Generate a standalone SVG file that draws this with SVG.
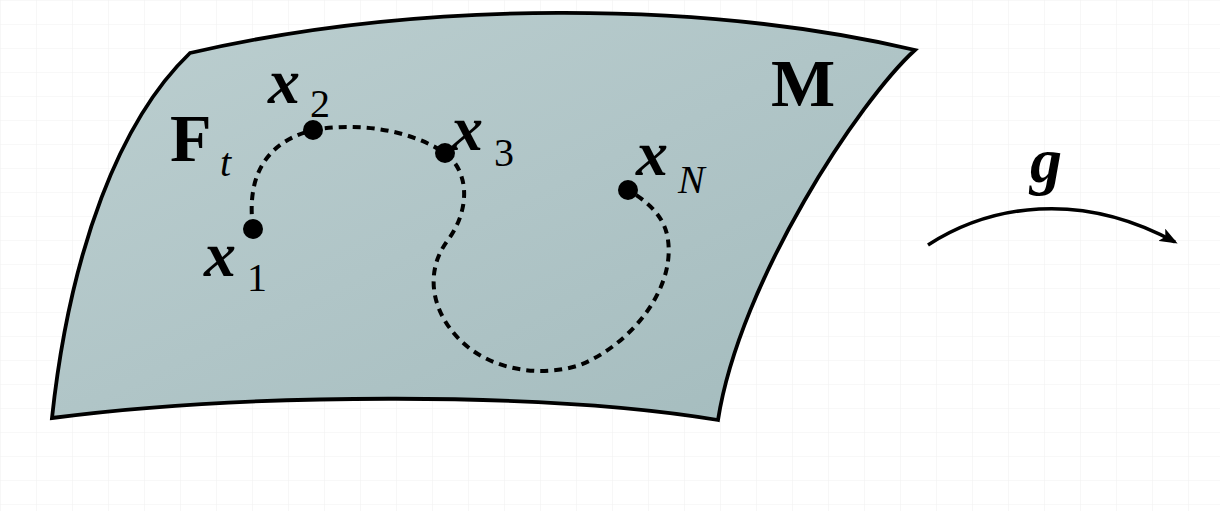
<svg xmlns="http://www.w3.org/2000/svg" width="1220" height="511" viewBox="0 0 1220 511">
  <defs>
    <pattern id="grid" width="36" height="24" patternUnits="userSpaceOnUse">
      <path d="M 0 0 L 36 0 M 0 0 L 0 24" fill="none" stroke="#f1f1f1" stroke-width="1.2"/>
    </pattern>
    <linearGradient id="surf" x1="0" y1="0" x2="1" y2="1">
      <stop offset="0" stop-color="#bccfd0"/>
      <stop offset="0.5" stop-color="#b0c5c7"/>
      <stop offset="1" stop-color="#a3bbbd"/>
    </linearGradient>
    <marker id="arr" markerWidth="18" markerHeight="14" refX="15" refY="7" orient="auto" markerUnits="userSpaceOnUse">
      <path d="M 0 0 L 18 7 L 0 14 L 4 7 Z" fill="#000"/>
    </marker>
    <style>
      .dash { fill: none; stroke: #000; stroke-width: 4; stroke-dasharray: 8 6; }
      .pt { fill: #000; }
      .mx { font-family: "Liberation Serif", "DejaVu Serif", serif; font-weight: bold; font-style: italic; font-size: 64px; fill: #000; }
      .sub { font-family: "Liberation Serif", "DejaVu Serif", serif; font-size: 40px; fill: #000; }
      .subi { font-family: "Liberation Serif", "DejaVu Serif", serif; font-style: italic; font-size: 40px; fill: #000; }
      .big { font-family: "Liberation Serif", "DejaVu Serif", serif; font-weight: bold; font-size: 68px; fill: #000; }
    </style>
  </defs>
  <rect x="0" y="0" width="1220" height="511" fill="#ffffff"/>
  <rect x="0" y="0" width="1220" height="511" fill="url(#grid)"/>

  <g id="manifold">
    <path d="M 190 53 C 420 0, 700 0, 915 50 C 860 100, 740 280, 718 420 C 550 392, 250 392, 52 418 C 70 250, 120 120, 190 53 Z" fill="url(#surf)" stroke="#000" stroke-width="3.8" stroke-linejoin="miter"/>
    <text class="big" x="771" y="106">M</text>
  </g>

  <g id="connectors">
    <path id="curve" class="dash" d="M 253 228 C 248 190, 255 145, 313 130 C 360 122, 410 130, 445 153 C 470 172, 470 210, 448 240 C 425 270, 430 310, 460 340 C 490 370, 540 378, 580 365 C 630 345, 675 290, 668 240 C 665 215, 645 200, 628 190"/>
    <path id="map-g" d="M 928 245 C 990 205, 1080 190, 1175 242" fill="none" stroke="#000" stroke-width="3.5" marker-end="url(#arr)"/>
  </g>

  <g id="label-Ft">
    <text class="big" x="170" y="161">F</text>
    <text class="subi" x="220" y="176">t</text>
  </g>

  <g id="x1">
    <circle class="pt" cx="253" cy="229" r="10"/>
    <text class="mx" x="204" y="276">x</text>
    <text class="sub" x="247" y="291">1</text>
  </g>

  <g id="x2">
    <circle class="pt" cx="313" cy="130" r="10"/>
    <text class="mx" x="268" y="103">x</text>
    <text class="sub" x="310" y="117">2</text>
  </g>

  <g id="x3">
    <circle class="pt" cx="445" cy="153" r="10"/>
    <text class="mx" x="451" y="150">x</text>
    <text class="sub" x="494" y="166">3</text>
  </g>

  <g id="xN">
    <circle class="pt" cx="628" cy="190" r="10"/>
    <text class="mx" x="636" y="175">x</text>
    <text class="subi" x="678" y="193">N</text>
  </g>

  <g id="label-g">
    <text class="mx" x="1030" y="182">g</text>
  </g>
</svg>
